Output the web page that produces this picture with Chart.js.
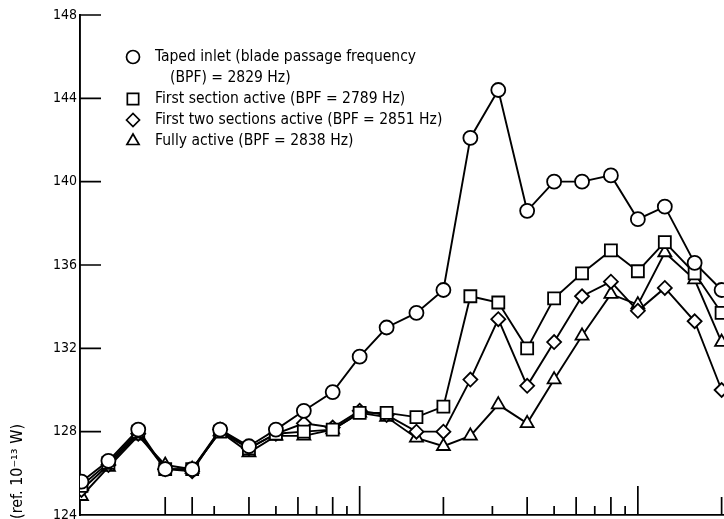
<!DOCTYPE html>
<html>
<head>
<meta charset="utf-8">
<script src="https://cdn.jsdelivr.net/npm/chart.js@4.4.0/dist/chart.umd.min.js"></script>
<style>
  body { margin: 0; background: #fff; }
  #wrap { width: 724px; height: 519px; position: relative; }
</style>
</head>
<body>
<div id="wrap"><canvas id="spectrumChart"></canvas></div>
<script>
// 1/3-octave band centre frequencies (Hz)
const bandHz = [100, 125, 160, 200, 250, 315, 400, 500, 630, 800, 1000, 1250,
                1600, 2000, 2500, 3150, 4000, 5000, 6300, 8000, 10000, 12500, 16000, 20000];

// sound power level per band, dB
const tapedInlet   = [125.6, 126.6, 128.1, 126.2, 126.2, 128.1, 127.3, 128.1, 129.0, 129.9, 131.6, 133.0,
                      133.7, 134.8, 142.1, 144.4, 138.6, 140.0, 140.0, 140.3, 138.2, 138.8, 136.1, 134.8];
const firstSection = [125.4, 126.5, 128.0, 126.2, 126.2, 128.0, 127.2, 127.9, 128.0, 128.1, 128.9, 128.9,
                      128.7, 129.2, 134.5, 134.2, 132.0, 134.4, 135.6, 136.7, 135.7, 137.1, 135.6, 133.7];
const firstTwo     = [125.2, 126.4, 127.9, 126.2, 126.1, 128.1, 127.2, 127.9, 128.4, 128.2, 129.0, 128.8,
                      128.0, 128.0, 130.5, 133.4, 130.2, 132.3, 134.5, 135.2, 133.8, 134.9, 133.3, 130.0];
const fullyActive  = [124.9, 126.3, 127.8, 126.4, 126.2, 128.0, 127.0, 127.8, 127.8, 128.1, 128.9, 128.7,
                      127.7, 127.3, 127.8, 129.3, 128.4, 130.5, 132.6, 134.6, 134.1, 136.6, 135.3, 132.3];

// axis ticks
const yTicks = [124, 128, 132, 136, 140, 144, 148];
const xDecadeTicks = [1000, 10000];
const xEvenTicks = [200, 250, 400, 600, 800, 2000, 4000, 6000, 8000, 20000];
const xOddTicks = [300, 500, 700, 900, 3000, 5000, 7000, 9000];

const legendLabels = [
  ['Taped inlet (blade passage frequency', '(BPF) = 2829 Hz)'],
  ['First section active (BPF = 2789 Hz)'],
  ['First two sections active (BPF = 2851 Hz)'],
  ['Fully active (BPF = 2838 Hz)']
];

const FONT = "'DejaVu Sans Condensed', 'Liberation Sans Narrow', 'Liberation Sans', sans-serif";

function seriesData(vals) {
  return bandHz.map((f, i) => ({x: f, y: vals[i]}));
}

function makeSet(label, vals, style, radius) {
  return {
    label: label,
    data: seriesData(vals),
    borderColor: '#000',
    borderWidth: 1.9,
    pointStyle: style,
    pointRadius: radius,
    pointBackgroundColor: '#fff',
    pointBorderColor: '#000',
    pointBorderWidth: 1.8,
    tension: 0
  };
}

const styles = [['circle', 7], ['rect', 8.5], ['rectRot', 7], ['triangle', 7.5]];

// inner tick marks, legend block and cut-off y title
const paperDecor = {
  id: 'paperDecor',
  afterDraw(chart) {
    const ctx = chart.ctx;
    const xs = chart.scales.x, ys = chart.scales.y;
    const area = chart.chartArea;
    ctx.save();
    ctx.strokeStyle = '#000';
    ctx.lineWidth = 1.7;
    ctx.beginPath();
    yTicks.slice(1).forEach(v => {
      const py = ys.getPixelForValue(v);
      ctx.moveTo(area.left, py);
      ctx.lineTo(area.left + 21, py);
    });
    const xMark = (list, len) => list.forEach(f => {
      const px = xs.getPixelForValue(f);
      ctx.moveTo(px, area.bottom);
      ctx.lineTo(px, area.bottom - len);
    });
    xMark(xDecadeTicks, 29);
    xMark(xEvenTicks, 18);
    xMark(xOddTicks, 9);
    ctx.stroke();

    // legend
    const lx = 133, tx = 155;
    const rows = [57, 99, 120, 141];
    ctx.font = '15.5px ' + FONT;
    ctx.textBaseline = 'middle';
    ctx.textAlign = 'left';
    legendLabels.forEach((lines, i) => {
      ctx.fillStyle = '#fff';
      Chart.helpers.drawPoint(ctx, {pointStyle: styles[i][0], radius: styles[i][1] - 0.5, rotation: 0, borderWidth: 1.8}, lx, rows[i]);
      ctx.fillStyle = '#000';
      ctx.fillText(lines[0], tx, rows[i]);
      if (lines[1]) ctx.fillText(lines[1], tx + 15, rows[i] + 21);
    });

    // y axis title, mostly below the page edge
    ctx.translate(18, 424);
    ctx.rotate(-Math.PI / 2);
    ctx.textAlign = 'right';
    ctx.font = '16px ' + FONT;
    ctx.fillText('Sound power level, dB (ref. 10\u207B\u00B9\u00B3 W)', 0, 0);
    ctx.restore();
  }
};

const ctx = document.getElementById('spectrumChart').getContext('2d');
new Chart(ctx, {
  type: 'line',
  data: {
    datasets: [
      makeSet('Taped inlet', tapedInlet, styles[0][0], styles[0][1]),
      makeSet('First section active', firstSection, styles[1][0], styles[1][1]),
      makeSet('First two sections active', firstTwo, styles[2][0], styles[2][1]),
      makeSet('Fully active', fullyActive, styles[3][0], styles[3][1])
    ]
  },
  options: {
    responsive: true,
    maintainAspectRatio: false,
    animation: false,
    layout: {autoPadding: false, padding: {top: 15, right: 0, bottom: 0, left: 0}},
    plugins: {
      legend: {display: false},
      tooltip: {enabled: false}
    },
    scales: {
      x: {
        type: 'logarithmic',
        min: 98.8,
        max: 20400,
        grid: {display: false, drawTicks: false},
        border: {display: true, color: '#000', width: 1.7},
        ticks: {display: false},
        afterFit(scale) { scale.height = 4; scale.paddingLeft = 0; scale.paddingRight = 0; }
      },
      y: {
        min: 124,
        max: 148,
        afterBuildTicks(scale) { scale.ticks = yTicks.map(v => ({value: v})); },
        grid: {display: false, drawTicks: false},
        border: {display: true, color: '#000', width: 1.9},
        ticks: {
          color: '#000',
          padding: 3,
          font: {family: FONT, size: 14}
        },
        afterFit(scale) { scale.width = 80; scale.paddingTop = 0; scale.paddingBottom = 0; }
      }
    }
  },
  plugins: [paperDecor]
});
</script>
</body>
</html>
